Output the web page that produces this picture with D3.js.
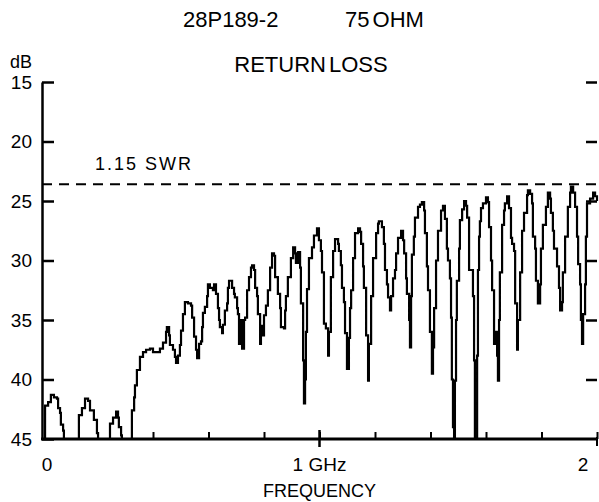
<!DOCTYPE html>
<html>
<head>
<meta charset="utf-8">
<script src="https://cdn.jsdelivr.net/npm/d3@7"></script>
<style>
  body { margin: 0; background: #fff; }
  text { font-family: "Liberation Sans", Arial, Helvetica, sans-serif; fill: #000; }
</style>
</head>
<body>
<svg id="chart" width="599" height="502"></svg>
<script>
// ---- data ----
const freqMHz = [0,7,11,22,32,43,54,58,65,68,76,79,130,133,144,155,166,173,184,187,198,202,241,245,256,267,274,277,285,288,321,324,332,335,342,353,364,375,389,400,411,425,436,447,450,458,461,472,479,483,490,497,501,508,515,526,537,541,548,555,559,566,573,577,
580,587,595,598,605,616,620,627,634,638,641,649,652,659,667,670,674,685,692,695,703,706,710,714,717,721,728,732,739,746,753,757,764,768,775,778,786,789,796,800,807,814,822,829,836,840,850,858,861,872,876,879,886,897,905,912,915,923,930,933,941,944,948,951,955,962,973,980,991,998,1005,1009,1016,1023,1031,1034,1041,1049,1056,1067,1070,1077,1081,1088,1092,1099,1106,1110,1114,1121,1128,1139,1146,1150,1157,1160,1168,1175,1178,1186,1193,1204,1211,1214,1225,1232,1236,1243,1247,1254,1258,1265,1272,1276,1283,1294,1301,1305,1312,1315,1323,1326,1330,1333,1340,1344,1355,1362,1369,1377,1380,1387,1391,1398,1405,1409,1413,1420,1427,1438,1445,1452,1459,1463,1470,1474,1477,1481,1485,1488,1492,1495,1503,1506,1514,1521,1528,1532,1539,1546,1553,1557,1560,1564,1568,1571,1575,1578,1582,1589,1600,1607,1611,1618,1622,1629,1632,1640,1643,1647,1650,1658,1665,1668,1676,1683,1690,1694,1701,1705,1712,1715,1723,1730,1737,1748,1751,1759,1766,1769,1777,1780,1787,1795,1798,1805,1816,1823,1831,1834,1841,1845,1856,1863,1867,1874,1877,1885,1895,1903,1906,1914,1921,1928,1932,1939,1942,1946,1950,1957,1960,1964,1975,1986,1993,2000];
const returnLossDb = [45,45,42.2,41.9,41.3,41.5,41.6,42.4,42.8,43.8,44.3,45,45,43,42.4,41.6,41.8,42.6,42.6,43.4,44.5,45,45,43.7,43.2,42.7,43.2,44,44.7,45,45,42.6,41.5,40.5,39.2,38.1,37.7,37.5,37.4,37.7,37.7,37.4,36.9,36.0,35.6,36.3,37.1,37.5,38.1,38.6,38.0,37.1,35.9,34.5,33.5,33.6,33.8,34.8,36.4,37.5,38.2,37.0,36.8,35.6,
34.4,33.9,33.0,32.0,32.3,32.5,32.0,32.8,34.0,35.0,35.6,36.1,35.4,34.2,33.6,32.3,31.7,32.3,32.8,33.1,34.0,34.5,37.0,35.5,35.0,37.4,35.0,34.8,32.5,31.4,30.6,30.4,30.8,32.3,33.0,34.5,37.0,35.5,36.3,34.6,33.8,32.5,30.6,29.4,29.6,31.4,32.8,34.0,35.6,35.7,34.2,33.0,31.4,29.8,28.9,29.4,30.2,29.3,30.6,33.6,38.4,42.0,40.0,36.0,32.4,29.8,28.9,27.9,27.3,28.3,29.2,31.0,35.3,35.7,38.0,36.0,31.4,29.2,28.2,28.6,29.2,30.4,32.3,33.5,36.1,39.1,36.5,34.0,32.5,29.8,27.7,27.3,27.6,28.6,30.5,32.3,36.3,40.1,37.0,33.0,29.8,27.7,26.9,26.7,27.2,28.6,30.8,32.0,33.1,34.2,33.0,31.5,30.8,29.4,28.1,27.5,28.3,29.4,31.5,32.8,35.0,37.3,33.0,29.5,28.0,26.4,25.5,25.3,25.1,25.8,27.7,30.5,32.5,36.0,39.5,37.3,34.0,30.0,27.5,25.8,25.4,26.5,29.0,30.0,31.5,34.8,40.0,44.0,45.0,40.1,35.0,31.7,29.0,26.6,25.7,25.0,25.4,26.4,30.8,30.8,33.0,38.4,45.0,45.0,38.0,30.8,28.0,26.7,25.6,25.2,24.7,25.1,27.2,30.0,32.5,37.0,36.0,38.0,40.1,35.0,31.0,27.0,25.8,25.2,24.6,25.6,28.1,28.6,29.2,33.6,37.5,35.0,31.0,27.5,26.0,24.5,24.1,24.4,25.2,28.0,29.0,31.7,33.6,32.0,29.0,27.0,25.5,24.3,24.8,26.0,27.5,29.0,30.5,32.3,34.2,33.5,31.0,28.0,25.5,24.3,23.8,24.3,25.5,28.0,30.3,32.0,35.0,37.0,34.5,32.0,28.0,25.2,24.8,24.3,24.6,25.0];
const yTickValues = [15, 20, 25, 30, 35, 40, 45];
const rightTickValues = [15, 20, 25, 30, 35, 40];
const xMinorTicks = [0.2, 0.4, 0.6, 0.8, 1.0, 1.2, 1.4, 1.6, 1.8, 2.0];
const xLabelValues = [0, 1, 2];
const xLabelTexts = ["0", "1 GHz", "2"];
const swrLevelDb = 23.6;
const swrLabel = "1.15 SWR";
const titleLeft = "28P189-2";
const titleRight = "75 OHM";
const subtitle = "RETURN LOSS";
const yUnit = "dB";
const xTitle = "FREQUENCY";

// ---- drawing ----
const svg = d3.select("#chart");
const x = d3.scaleLinear().domain([0, 2]).range([42, 597]);
const y = d3.scaleLinear().domain([15, 45]).range([82, 439]);
const AX = 2.5;

// left axis
const gl = svg.append("g").attr("transform", `translate(${x(0)},0)`)
  .call(d3.axisLeft(y).tickValues(yTickValues).tickSizeInner(-12).tickSizeOuter(0).tickPadding(10));
gl.select(".domain").attr("stroke-width", AX).attr("stroke", "#000");
gl.selectAll(".tick line").attr("stroke-width", AX).attr("stroke", "#000");
gl.selectAll(".tick text").attr("font-size", 19).attr("font-family", "Liberation Sans, Arial, sans-serif");

// right ticks
const gr = svg.append("g").attr("transform", `translate(${x(2)},0)`)
  .call(d3.axisRight(y).tickValues(rightTickValues).tickSizeInner(-11).tickSizeOuter(0).tickFormat(""));
gr.select(".domain").remove();
gr.selectAll(".tick line").attr("stroke-width", AX).attr("stroke", "#000");

// bottom axis
svg.append("line").attr("x1", x(0) - 1).attr("x2", x(2) + 1).attr("y1", y(45)).attr("y2", y(45))
  .attr("stroke", "#000").attr("stroke-width", AX + 0.5);
const gb = svg.append("g").attr("transform", `translate(0,${y(45)})`)
  .call(d3.axisBottom(x).tickValues(xMinorTicks).tickSizeInner(-7).tickSizeOuter(0).tickFormat(""));
gb.select(".domain").remove();
gb.selectAll(".tick line").attr("stroke-width", 2).attr("stroke", "#000");
svg.append("line").attr("x1", x(1)).attr("x2", x(1)).attr("y1", y(45) - 9).attr("y2", y(45) + 8)
  .attr("stroke", "#000").attr("stroke-width", 2.5);
svg.append("line").attr("x1", x(2)).attr("x2", x(2)).attr("y1", y(45) - 2).attr("y2", y(45) + 7)
  .attr("stroke", "#000").attr("stroke-width", 2);

// x labels
const xLabelDx = [5, 0, -14];
svg.selectAll("text.xl").data(xLabelValues).enter().append("text").attr("class", "xl")
  .attr("x", (d, i) => x(d) + xLabelDx[i]).attr("y", 471).attr("text-anchor", "middle")
  .attr("font-size", 19).text((d, i) => xLabelTexts[i]);
svg.append("text").attr("x", x(1)).attr("y", 497).attr("text-anchor", "middle")
  .attr("font-size", 18).text(xTitle);

// titles
svg.append("text").attr("x", 183).attr("y", 27).attr("font-size", 22).text(titleLeft);
svg.append("text").attr("x", 345).attr("y", 27).attr("font-size", 22).attr("word-spacing", -3).text(titleRight);
svg.append("text").attr("x", 311).attr("y", 72).attr("text-anchor", "middle").attr("font-size", 22).attr("word-spacing", -3).text(subtitle);
svg.append("text").attr("x", 10).attr("y", 68).attr("font-size", 18).text(yUnit);

// SWR reference line
svg.append("line").attr("x1", x(0)).attr("x2", x(2)).attr("y1", y(swrLevelDb)).attr("y2", y(swrLevelDb))
  .attr("stroke", "#000").attr("stroke-width", 2).attr("stroke-dasharray", "10,7");
svg.append("text").attr("x", 95).attr("y", 170).attr("font-size", 18).attr("letter-spacing", 2).text(swrLabel);

// return loss trace (stepped, like the analyzer plot)
const pts = freqMHz.map((f, i) => ({ f: f / 1000, db: returnLossDb[i] }));
svg.append("path").datum(pts)
  .attr("fill", "none").attr("stroke", "#000").attr("stroke-width", 2.2).attr("stroke-linejoin", "miter")
  .attr("d", d3.line().curve(d3.curveStepAfter).x(d => x(d.f)).y(d => y(d.db)));
</script>
</body>
</html>
